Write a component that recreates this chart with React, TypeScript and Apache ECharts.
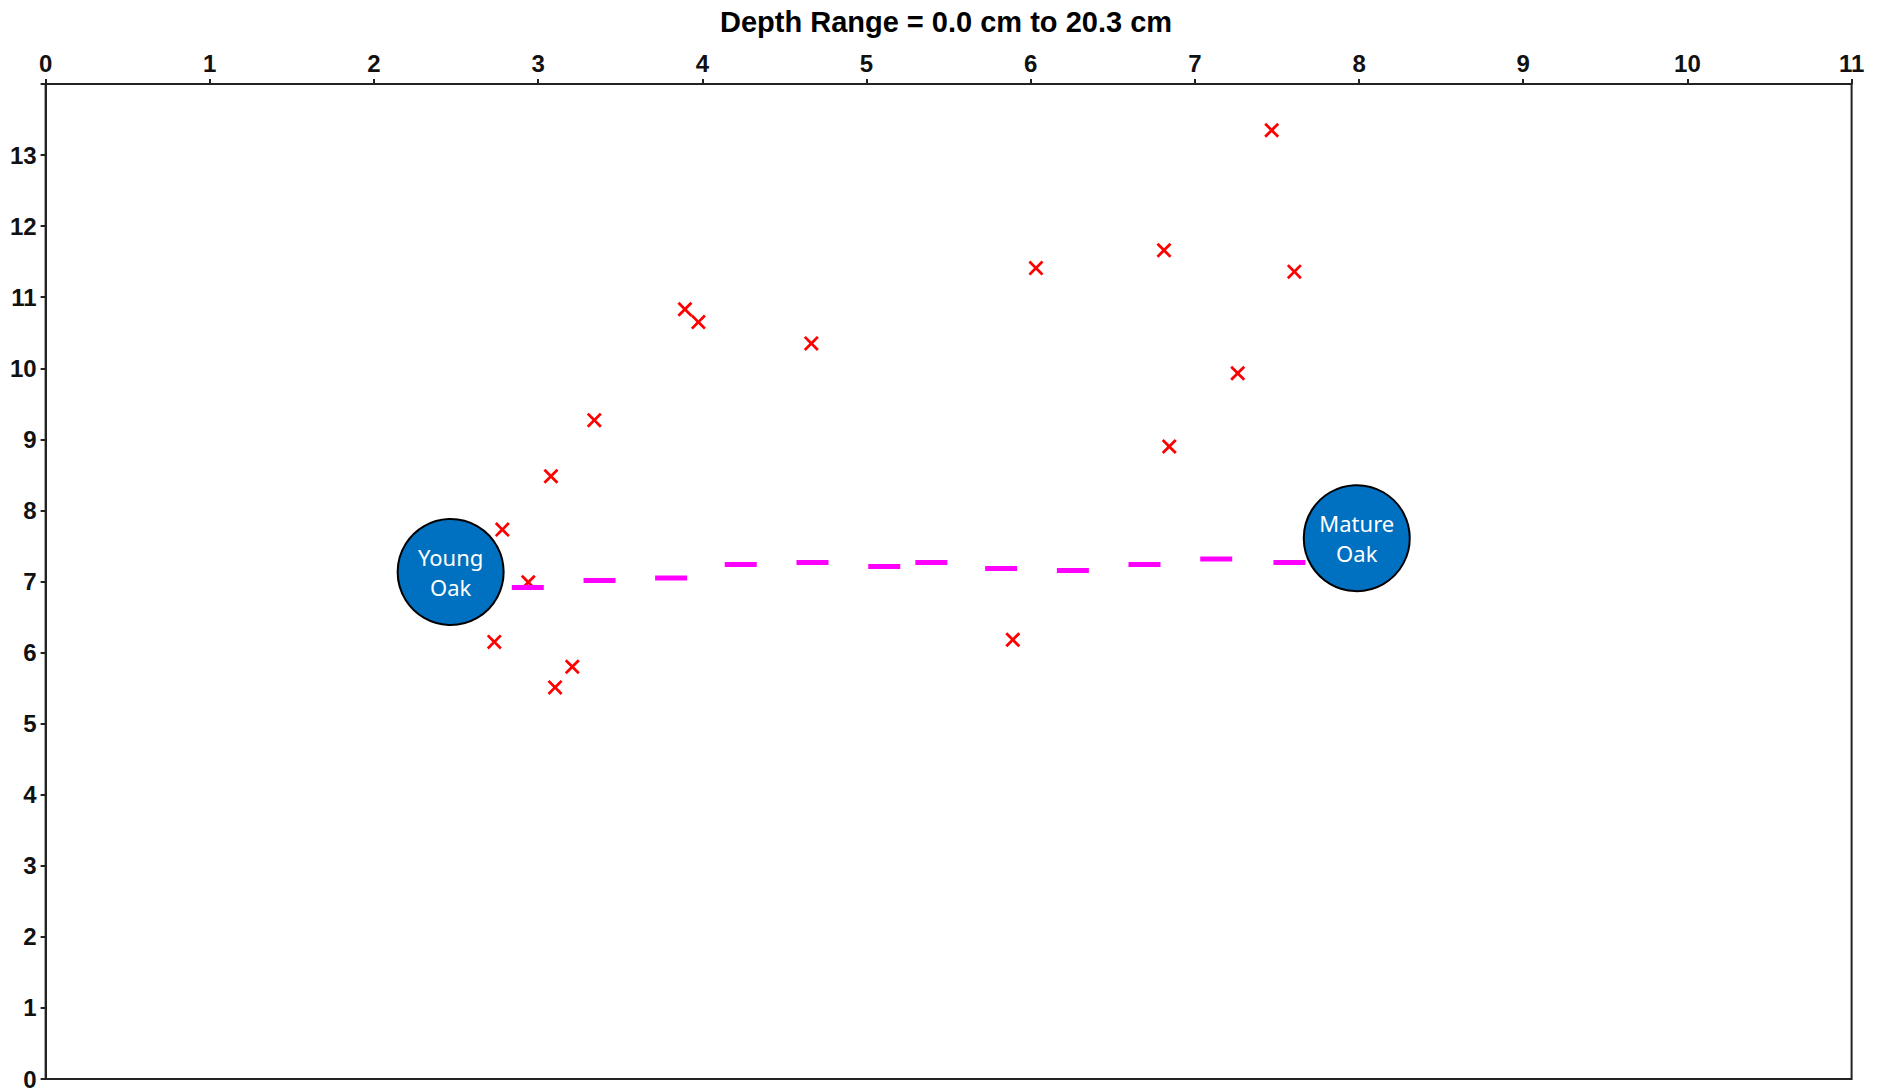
import React, { useEffect, useRef } from "react";
import * as echarts from "echarts";

const titleText = "Depth Range = 0.0 cm to 20.3 cm";

// red "x" samples
const samplesX = [7.468, 6.812, 6.032, 7.606, 3.894, 3.976, 4.664, 7.261, 3.342, 6.844, 3.078, 2.782, 2.94, 2.733, 5.891, 3.208, 3.103];
const samplesY = [13.35, 11.66, 11.41, 11.36, 10.83, 10.65, 10.35, 9.93, 9.27, 8.9, 8.48, 7.73, 6.99, 6.15, 6.18, 5.8, 5.51];

// magenta dash markers
const dashX = [2.937, 3.374, 3.81, 4.234, 4.671, 5.108, 5.395, 5.82, 6.257, 6.693, 7.13, 7.576];
const dashY = [6.915, 7.013, 7.05, 7.238, 7.266, 7.21, 7.266, 7.182, 7.154, 7.238, 7.316, 7.266];

// oak markers
const oakNames = ["Young\nOak", "Mature\nOak"];
const oakX = [2.467, 7.986];
const oakY = [7.134, 7.61];

const xTicks = [0, 1, 2, 3, 4, 5, 6, 7, 8, 9, 10, 11];
const yTicks = [0, 1, 2, 3, 4, 5, 6, 7, 8, 9, 10, 11, 12, 13];

const X_PATH =
  "path://M0,13 L13,0 L50,37 L87,0 L100,13 L63,50 L100,87 L87,100 L50,63 L13,100 L0,87 L37,50 Z";

const labelFont = "'Liberation Sans Narrow', 'Liberation Sans', Arial, sans-serif";

export default function App() {
  const ref = useRef<HTMLDivElement>(null);

  useEffect(() => {
    if (!ref.current) return;
    const chart = echarts.init(ref.current, undefined, { renderer: "svg" });
    const option: any = {
      animation: false,
      backgroundColor: "#ffffff",
      graphic: [
        {
          type: "text",
          x: 946,
          y: 22,
          style: {
            text: titleText,
            align: "center",
            verticalAlign: "middle",
            fontSize: 29,
            fontWeight: "bold",
            fontFamily: "'Liberation Sans', Arial, sans-serif",
            fill: "#000000",
          },
        },
      ],
      grid: {
        left: 45.6,
        right: 29.4,
        top: 84,
        bottom: 9,
        show: true,
        borderColor: "#222222",
        borderWidth: 2,
        backgroundColor: "#ffffff",
      },
      xAxis: {
        type: "value",
        position: "top",
        min: 0,
        max: 11,
        interval: 1,
        splitLine: { show: false },
        axisLine: { show: true, onZero: false, lineStyle: { color: "#222222", width: 2 } },
        axisTick: { show: true, length: 5, lineStyle: { color: "#222222", width: 2 } },
        axisLabel: {
          show: true,
          margin: 9,
          fontSize: 24,
          fontWeight: "bold",
          fontFamily: labelFont,
          color: "#111111",
          formatter: (v: number) => (xTicks.includes(v) ? String(v) : ""),
        },
      },
      yAxis: {
        type: "value",
        min: 0,
        max: 14,
        interval: 1,
        splitLine: { show: false },
        axisLine: { show: true, onZero: false, lineStyle: { color: "#222222", width: 2 } },
        axisTick: { show: true, length: 5, lineStyle: { color: "#222222", width: 2 } },
        axisLabel: {
          show: true,
          margin: 9,
          fontSize: 24,
          lineHeight: 16,
          fontWeight: "bold",
          fontFamily: labelFont,
          color: "#111111",
          formatter: (v: number) => (yTicks.includes(v) ? String(v) : ""),
        },
      },
      series: [
        {
          name: "samples",
          type: "scatter",
          symbol: X_PATH,
          symbolSize: 15,
          itemStyle: { color: "#ff0000", opacity: 1 },
          data: samplesX.map((x, i) => [x, samplesY[i]]),
          z: 2,
        },
        {
          name: "trend",
          type: "scatter",
          symbol: "rect",
          symbolSize: [32, 5],
          itemStyle: { color: "#ff00ff", opacity: 1 },
          data: dashX.map((x, i) => [x, dashY[i]]),
          z: 3,
        },
        {
          name: "oaks",
          type: "scatter",
          symbol: "circle",
          symbolSize: 106,
          itemStyle: { color: "#0070c0", borderColor: "#000000", borderWidth: 2, opacity: 1 },
          label: {
            show: true,
            position: "inside",
            formatter: (p: any) => p.data[2],
            color: "#ffffff",
            fontSize: 22,
            lineHeight: 30,
            fontFamily: "'Noto Sans', 'Open Sans', sans-serif",
          },
          data: oakX.map((x, i) => [x, oakY[i], oakNames[i]]),
          z: 4,
        },
      ],
    };
    chart.setOption(option);
    return () => chart.dispose();
  }, []);

  return (
    <div
      ref={ref}
      style={{ position: "fixed", left: 0, top: 0, width: 1881, height: 1091, background: "#fff" }}
    />
  );
}
